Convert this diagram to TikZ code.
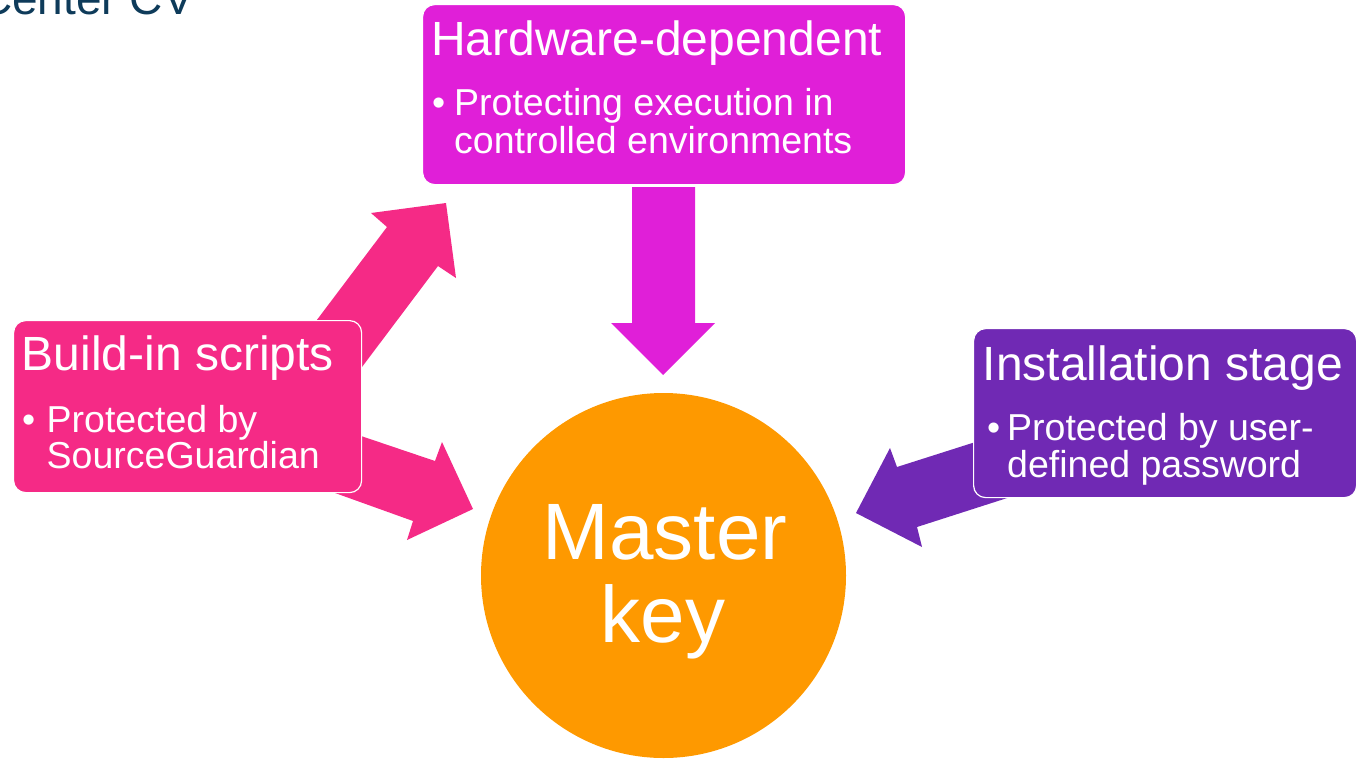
\documentclass[tikz,border=0pt]{standalone}
\usepackage{fontspec}
\setmainfont{Liberation Sans}
\definecolor{hwcol}{RGB}{224,31,216}
\definecolor{pinkcol}{RGB}{245,42,134}
\definecolor{purplecol}{RGB}{112,41,180}
\definecolor{keycol}{RGB}{254,153,0}
\definecolor{titlecol}{RGB}{14,59,90}
\begin{document}
\begin{tikzpicture}[x=1pt,y=-1pt,
  box/.style={draw=white, line width=1.2pt, rounded corners=12pt, anchor=north west, inner sep=0pt},
  head/.style={text=white, anchor=base west, inner sep=0pt, font=\fontsize{48}{48}\selectfont},
  body/.style={text=white, anchor=base west, inner sep=0pt, font=\fontsize{37.5}{37.5}\selectfont},
  keytext/.style={text=white, anchor=base, inner sep=0pt, font=\fontsize{80}{80}\selectfont}]
\clip (0,0) rectangle (1357,758);
\useasboundingbox (0,0) rectangle (1357,758);

% slide title, running off the top edge
\node[anchor=base west, inner sep=0pt, text=titlecol, font=\fontsize{46}{46}\selectfont] (title) at (-21,14) {Center CV};

% block arrows (drawn first so the boxes cover their tails)
\coordinate (upTip) at (446,203);
\coordinate (lowTip) at (473,509);
\coordinate (downTip) at (663,375);
\coordinate (instTip) at (856,513);
\fill[pinkcol] (298,345) -- (387,227) -- (371,213) -- (upTip) -- (456,278) -- (438,266) -- (349.5,383.6) -- cycle;
\fill[pinkcol] (330,425.5) -- (435,461) -- (442,442) -- (lowTip) -- (407,540) -- (413,521) -- (310,484) -- cycle;
\fill[purplecol] (1010,431) -- (897,467) -- (890,448) -- (instTip) -- (922,547) -- (917,527) -- (1029,491) -- cycle;
\fill[hwcol] (632,187) -- (695,187) -- (695,323) -- (715,323) -- (downTip) -- (611,323) -- (632,323) -- cycle;

% boxes
\node[box, fill=hwcol, minimum width=483pt, minimum height=180pt] (hw) at (422,4) {};
\node[box, fill=pinkcol, minimum width=348pt, minimum height=172pt] (bi) at (13,320) {};
\node[box, fill=purplecol, minimum width=383pt, minimum height=169pt] (inst) at (973,328) {};

% master key
\node[circle, fill=keycol, minimum size=365pt, inner sep=0pt] (key) at (663.5,575.5) {};

% box texts
\node[head] (hwh) at (431,55) {Hardware-dependent};
\node[body] (hwb) at (432,115) {•};
\node[body] (hw1) at (454,115) {Protecting execution in};
\node[body] (hw2) at (454,153) {controlled environments};

\node[head] (bih) at (21.5,370) {Build-in scripts};
\node[body] (bib) at (22,432) {•};
\node[body] (bi1) at (46.5,432) {Protected by};
\node[body] (bi2) at (46.5,468) {SourceGuardian};

\node[head] (insth) at (982.5,380) {Installation stage};
\node[body] (instb) at (987,440) {•};
\node[body] (inst1) at (1007,440) {Protected by user-};
\node[body] (inst2) at (1007,477) {defined password};

\node[keytext] (k1) at (665,559) {Master};
\node[keytext] (k2) at (663,642) {key};
\end{tikzpicture}
\end{document}
